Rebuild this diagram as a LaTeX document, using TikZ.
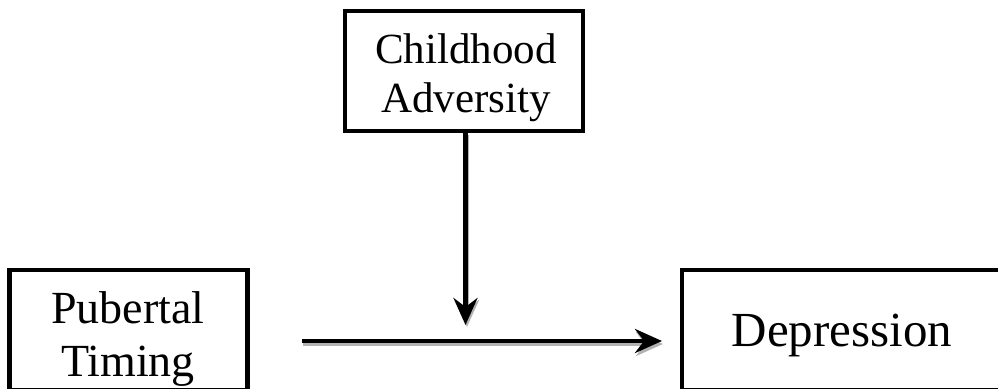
\documentclass[tikz,border=0pt]{standalone}
\usepackage{fontspec}
\setmainfont{Liberation Serif}
\usetikzlibrary{arrows.meta}
\begin{document}
\begin{tikzpicture}[x=1pt,y=1pt,
    box/.style={draw,line width=4.5pt,minimum width=238pt,minimum height=120pt,inner sep=0pt},
    lbl/.style={align=center,inner sep=0pt},
    arr/.style={line width=4.5pt,-{Stealth[length=27pt,width=24pt,inset=9pt]}},
    shade/.style={arr,draw=black!30,fill=black!30}]
  \useasboundingbox (0,0) rectangle (998,388);
  % boxes
  \node[box] (adv) at (464,317) {};
  \node[lbl,font=\fontsize{43}{49}\selectfont] (advtext) at (466,310.7) {Childhood\\Adversity};
  \node[box] (pub) at (128.5,58) {};
  \node[lbl,font=\fontsize{46}{53}\selectfont] (pubtext) at (128,48.5) {Pubertal\\Timing};
  \node[box,minimum width=320pt] (dep) at (842,58) {};
  \node[lbl,font=\fontsize{49}{55}\selectfont] (deptext) at (842,52.5) {Depression};
  % arrows
  \coordinate (hstart) at (302,47);
  \coordinate (hend) at (662,47);
  \coordinate (vend) at (465.5,63);
  \draw[shade] ([shift={(1,-3)}]hstart) -- ([shift={(1,-3)}]hend);
  \draw[shade] ([shift={(1.5,-2)}]adv.south -| vend) -- ([shift={(1.5,-2)}]vend);
  \draw[arr] (hstart) -- (hend);
  \draw[arr] (adv.south -| vend) -- (vend);
\end{tikzpicture}
\end{document}
